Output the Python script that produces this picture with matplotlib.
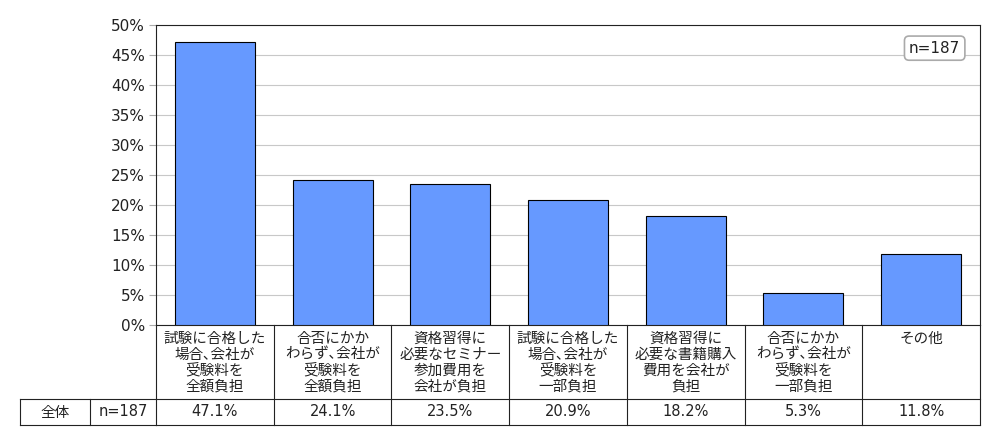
import matplotlib.pyplot as plt
import matplotlib.transforms as mtransforms

plt.rcParams['font.family'] = ['DejaVu Sans', 'Noto Sans CJK JP']

categories = [
    '試験に合格した\n場合､会社が\n受験料を\n全額負担',
    '合否にかか\nわらず､会社が\n受験料を\n全額負担',
    '資格習得に\n必要なセミナー\n参加費用を\n会社が負担',
    '試験に合格した\n場合､会社が\n受験料を\n一部負担',
    '資格習得に\n必要な書籍購入\n費用を会社が\n負担',
    '合否にかか\nわらず､会社が\n受験料を\n一部負担',
    'その他',
]
values = [47.1, 24.1, 23.5, 20.9, 18.2, 5.3, 11.8]
row_name = '全体'
n_label = 'n=187'
yticks = [0, 5, 10, 15, 20, 25, 30, 35, 40, 45, 50]

fig = plt.figure(figsize=(10, 4.45), dpi=100)
ax = fig.add_axes([0.156, 0.2697, 0.824, 0.674])

xs = list(range(len(values)))
ax.bar(xs, values, width=0.68, color='#6699ff', edgecolor='black', linewidth=0.8, zorder=3)

ax.set_xlim(-0.5, len(values) - 0.5)
ax.set_ylim(0, 50)
ax.set_yticks(yticks)
ax.set_yticklabels([f'{t}%' for t in yticks], fontsize=11, color='#222222')
ax.set_xticks([])
ax.yaxis.grid(True, color='#c8c8c8', linewidth=0.8, zorder=0)
ax.tick_params(axis='y', length=5, color='#aaaaaa', pad=3)
for s in ax.spines.values():
    s.set_color('#222222')
    s.set_linewidth(0.8)

# n=187 box
ax.text(0.945, 0.923, n_label, transform=ax.transAxes, ha='center', va='center', fontsize=11,
        color='#222222',
        bbox=dict(boxstyle='round,pad=0.3', fc='white', ec='#aaaaaa', lw=1.2), zorder=5)

# table under the chart
trans = mtransforms.blended_transform_factory(ax.transData, ax.transAxes)
h = 300.0
y_lab = -74 / h
y_bot = -100 / h
lc = '#222222'
lw = 0.8
for i in range(len(values) + 1):
    ax.plot([i - 0.5, i - 0.5], [0, y_bot], transform=trans, color=lc, lw=lw, clip_on=False)
ax.plot([-0.5, len(values) - 0.5], [y_lab, y_lab], transform=trans, color=lc, lw=lw, clip_on=False)
ax.plot([-0.5, len(values) - 0.5], [y_bot, y_bot], transform=trans, color=lc, lw=lw, clip_on=False)

for i, (lab, v) in enumerate(zip(categories, values)):
    ax.text(i, -6 / h, lab, transform=trans, ha='center', va='top', fontsize=10.5,
            linespacing=1.08, color='#222222', clip_on=False)
    ax.text(i, -87 / h, f'{v:.1f}%', transform=trans, ha='center', va='center', fontsize=10.5,
            color='#222222', clip_on=False)

# left cells in figure pixel coordinates
def fy(py):
    return 1 - py / 445

for x in [0.020, 0.090]:
    fig.add_artist(plt.Line2D([x, x], [fy(399), fy(425)], color=lc, lw=lw))
fig.add_artist(plt.Line2D([0.020, 0.156], [fy(399), fy(399)], color=lc, lw=lw))
fig.add_artist(plt.Line2D([0.020, 0.156], [fy(425), fy(425)], color=lc, lw=lw))
fig.text(0.055, fy(412), row_name, ha='center', va='center', fontsize=10.5, color='#222222')
fig.text(0.123, fy(412), n_label, ha='center', va='center', fontsize=10.5, color='#222222')

fig.savefig('out.png', dpi=100)
